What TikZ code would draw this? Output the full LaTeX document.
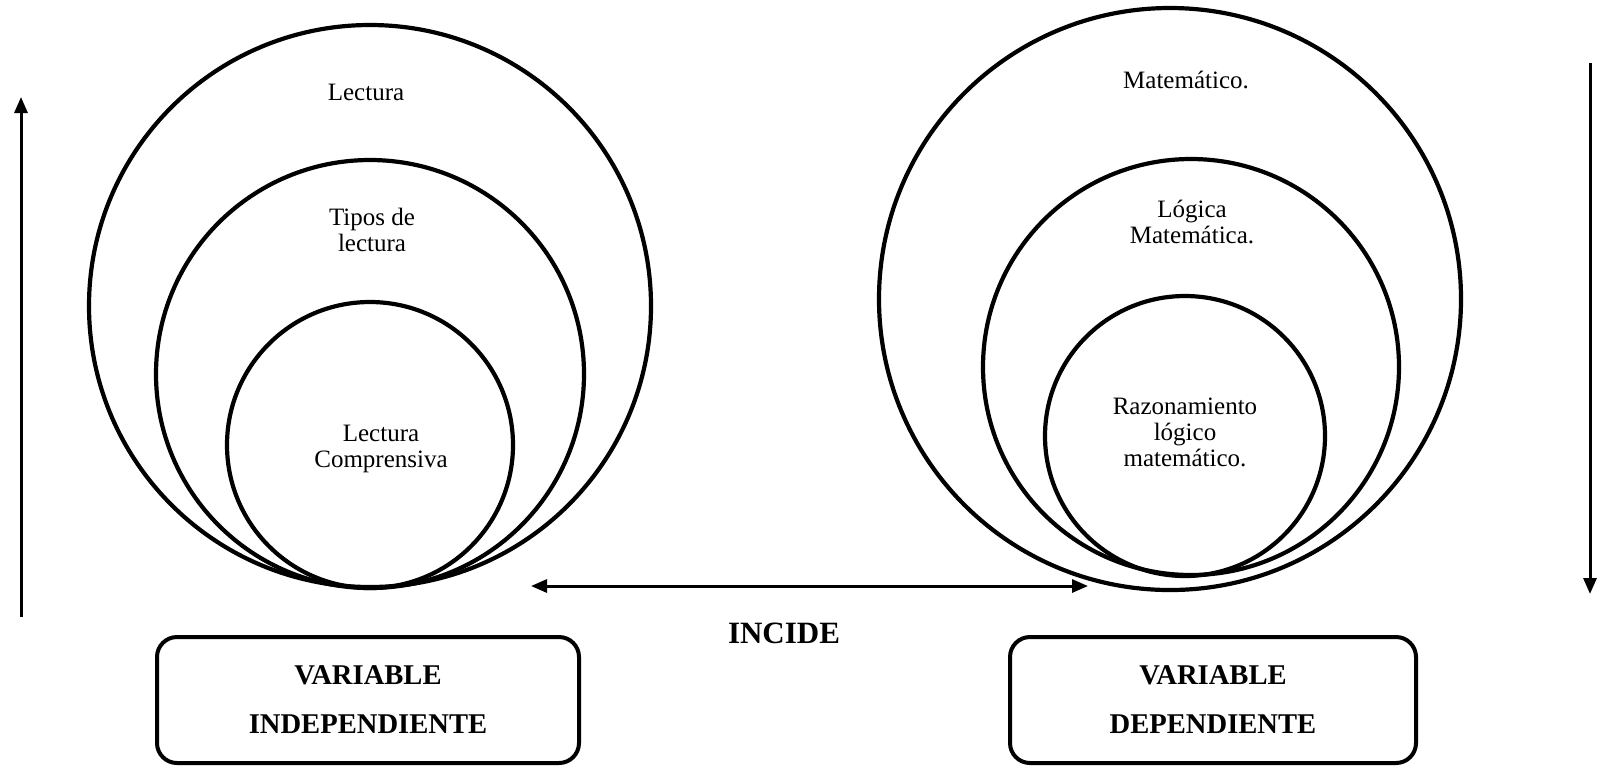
\documentclass[tikz,border=0pt]{standalone}
\usepackage{fontspec}
\setmainfont{Liberation Serif}
\usetikzlibrary{arrows.meta}
\begin{document}
\begin{tikzpicture}[x=0.5pt,y=-0.5pt,
  ring/.style={draw, line width=2.1pt, circle, inner sep=0pt, minimum size=#1},
  lbl/.style={align=center, inner sep=0pt, font=\fontsize{12.5}{13}\selectfont},
  varbox/.style={draw, line width=2pt, rounded corners=10pt, minimum height=63pt, align=center, inner sep=0pt, font=\fontsize{14.3}{24.5}\selectfont\bfseries},
  arr/.style={line width=1.5pt, -{Triangle[width=6.5pt,length=8pt]}},
  dblarr/.style={line width=1.5pt, {Triangle[width=6.5pt,length=8pt]}-{Triangle[width=6.5pt,length=8pt]}}]
\useasboundingbox (0,0) rectangle (1600,768);
% left group
\node[ring=281pt] (lo) at (370,306) {};
\node[ring=214pt] (lm) at (370,374) {};
\node[ring=143pt] (li) at (370,445) {};
\node[lbl] (t1) at (366,92) {Lectura};
\node[lbl] (t2) at (372,230) {Tipos de\\lectura};
\node[lbl] (t3) at (381,449) {Lectura\\Comprensiva};
% right group
\node[ring=291pt] (ro) at (1170,299) {};
\node[ring=208pt] (rm) at (1191,367) {};
\node[ring=140pt] (ri) at (1185,436) {};
\node[lbl] (t4) at (1186,80) {Matemático.};
\node[lbl] (t5) at (1192,222) {Lógica\\Matemática.};
\node[lbl] (t6) at (1185,432) {Razonamiento\\lógico\\matemático.};
% boxes
\node[varbox, minimum width=211pt] (vi) at (368,700) {VARIABLE\\INDEPENDIENTE};
\node[varbox, minimum width=203pt] (vd) at (1213,700) {VARIABLE\\DEPENDIENTE};
\node[inner sep=0pt, font=\fontsize{15.5}{17}\selectfont\bfseries] (inc) at (784,633) {INCIDE};
% arrows
\coordinate (la) at (21,617);
\coordinate (lb) at (21,97);
\coordinate (ra) at (1590,63);
\coordinate (rb) at (1590,594);
\coordinate (ha) at (531,586);
\coordinate (hb) at (1088,586);
\draw[arr] (la) -- (lb);
\draw[arr] (ra) -- (rb);
\draw[dblarr] (ha) -- (hb);
\end{tikzpicture}
\end{document}
